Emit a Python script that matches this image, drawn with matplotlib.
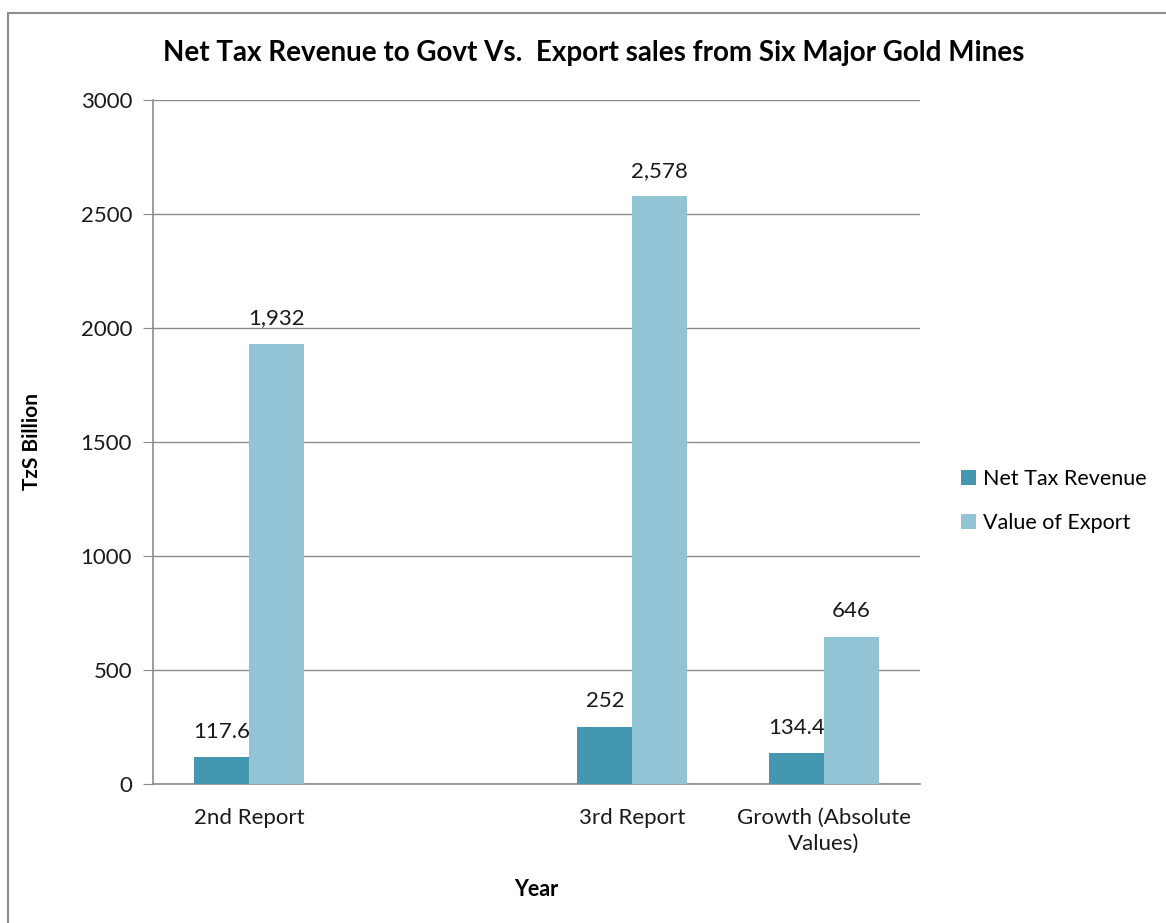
import matplotlib.pyplot as plt
import numpy as np
from matplotlib.patches import Rectangle

categories = ['2nd Report', '', '3rd Report', 'Growth (Absolute\nValues)']
net_tax = [117.6, np.nan, 252, 134.4]
export = [1932, np.nan, 2578, 646]
net_labels = ['117.6', '', '252', '134.4']
export_labels = ['1,932', '', '2,578', '646']

plt.rcParams['font.family'] = ['Lato', 'DejaVu Sans']

fig = plt.figure(figsize=(11.66, 9.23), dpi=100)
W, H = 1166, 923
ax = fig.add_axes([153 / W, 1 - 784 / H, (920 - 153) / W, (784 - 100) / H])

# outer frame
fig.patches.append(Rectangle((8 / W, -0.1), 1.2, 1 - 13 / H + 0.1, transform=fig.transFigure,
                             fill=False, edgecolor='#8c8c8c', lw=1.5))

x = np.arange(len(categories))
w = 0.287
dark = '#4398b0'
light = '#93c4d5'
b1 = ax.bar(x - w / 2, net_tax, w, color=dark, label='Net Tax Revenue', zorder=3)
b2 = ax.bar(x + w / 2, export, w, color=light, label='Value of Export', zorder=3)

for i in range(len(categories)):
    if net_labels[i]:
        ax.annotate(net_labels[i], (x[i] - w / 2, net_tax[i]), xytext=(0, 11),
                    textcoords='offset points', ha='center', va='bottom', fontsize=16, color='#1a1a1a')
    if export_labels[i]:
        ax.annotate(export_labels[i], (x[i] + w / 2, export[i]), xytext=(0, 11),
                    textcoords='offset points', ha='center', va='bottom', fontsize=16, color='#1a1a1a')

ax.set_xlim(-0.5, len(categories) - 0.5)
ax.set_ylim(0, 3000)
ax.set_yticks(range(0, 3001, 500))
ax.set_xticks(x)
ax.set_xticklabels(categories, fontsize=16, color='#1a1a1a', linespacing=1.4)
ax.tick_params(axis='x', length=0, pad=17)
ax.tick_params(axis='y', labelsize=16, labelcolor='#1a1a1a', length=7, color='#8c8c8c', pad=8)
ax.grid(axis='y', color='#8c8c8c', lw=1, zorder=0)
for s in ['top', 'right']:
    ax.spines[s].set_visible(False)
for s in ['left', 'bottom']:
    ax.spines[s].set_color('#8c8c8c')
    ax.spines[s].set_linewidth(1.2)

ax.set_ylabel('TzS Billion', fontsize=15, fontweight='bold', labelpad=28)
ax.set_xlabel('Year', fontsize=15.5, fontweight='bold', labelpad=18)
fig.text(594 / W, 1 - 53 / H, 'Net Tax Revenue to Govt Vs.  Export sales from Six Major Gold Mines',
         ha='center', va='center', fontsize=20, fontweight='bold')

fig.legend(handles=[b1, b2], loc='center left', bbox_to_anchor=(942 / W, 1 - 501 / H),
           frameon=False, fontsize=15.5, handlelength=0.7, handleheight=0.7,
           handletextpad=0.3, labelspacing=1.1)

fig.savefig('out.png', dpi=100)
